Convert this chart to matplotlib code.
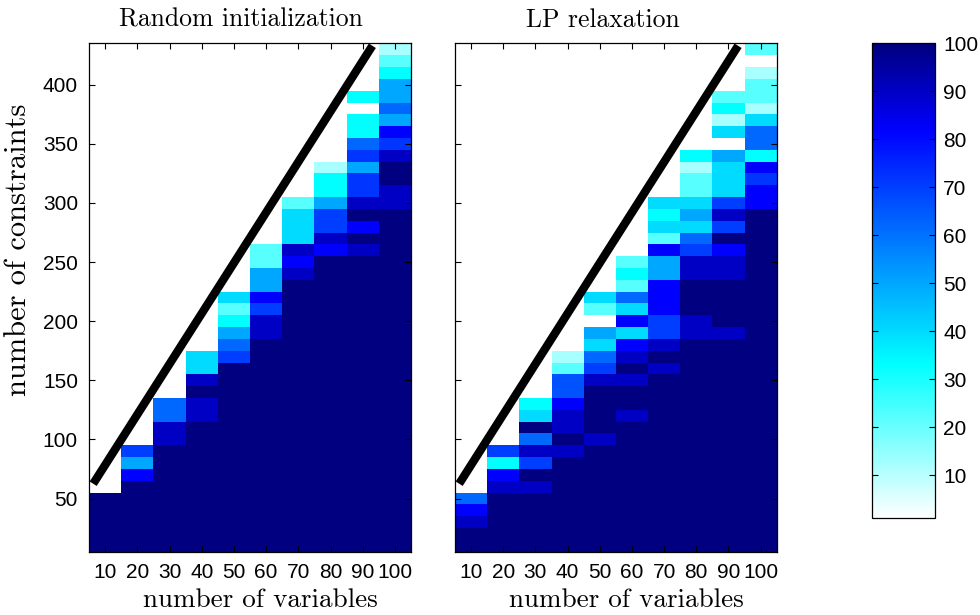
import numpy as np
import matplotlib
matplotlib.use("Agg")
import matplotlib.pyplot as plt
from matplotlib.colors import LinearSegmentedColormap

# --- data ---
n_vars = [10, 20, 30, 40, 50, 60, 70, 80, 90, 100]
n_cons = list(range(10, 440, 10))   # row centres 10..430

# highest non-empty row of each column
top_row = [50, 90, 130, 170, 220, 260, 300, 330, 390, 430]
top_row_lp = [50, 90, 130, 170, 220, 250, 300, 340, 390, 430]

# values from the top row downwards; every row below the list is 100
rand_cols = [
    [100],
    [70, 50, 82],
    [62, 62, 90, 90],
    [40, 40, 90, 100, 90, 90],
    [40, 22, 33, 50, 62, 70],
    [22, 22, 50, 50, 82, 70, 90, 90],
    [22, 40, 40, 40, 90, 82, 90],
    [12, 33, 33, 50, 70, 70, 90, 82],
    [33, 0, 33, 33, 62, 72, 50, 72, 72, 90, 100, 82, 100, 90],
    [12, 22, 33, 50, 50, 62, 50, 82, 72, 90, 100, 100, 90, 90],
]
lp_cols = [
    [62, 82, 90],
    [70, 33, 82, 90],
    [33, 40, 100, 62, 90, 70, 100, 90],
    [12, 22, 66, 66, 82, 90, 90, 100, 90],
    [40, 22, 0, 50, 40, 62, 70, 90, 100, 100, 100, 100, 90],
    [22, 33, 22, 62, 40, 82, 40, 82, 90, 100, 90, 100, 100, 90],
    [40, 33, 40, 22, 82, 50, 50, 82, 82, 82, 70, 70, 90, 100, 90],
    [33, 12, 22, 22, 40, 50, 40, 62, 70, 90, 90, 100, 100, 100, 90, 90],
    [22, 33, 12, 40, 0, 50, 40, 40, 40, 70, 90, 70, 100, 82, 90, 90, 100, 100, 100, 100, 90],
    [22, 0, 12, 22, 22, 12, 40, 62, 62, 33, 82, 72, 82, 82],
]
solved = 100

# the black boundary line (variables, constraints)
line_x = [6.3, 93.0]
line_y = [62.5, 433.0]

cbar_ticks = [10, 20, 30, 40, 50, 60, 70, 80, 90, 100]


def build_grid(cols, tops):
    grid = np.full((len(n_cons), len(n_vars)), np.nan)
    for j, (vals, top) in enumerate(zip(cols, tops)):
        i_top = n_cons.index(top)
        for k in range(i_top + 1):
            grid[i_top - k, j] = vals[k] if k < len(vals) else solved
    return grid


grid_rand = build_grid(rand_cols, top_row)
grid_lp = build_grid(lp_cols, top_row_lp)

cmap = LinearSegmentedColormap.from_list(
    "wcb", [(0.0, (1, 1, 1)), (32 / 99, (0, 1, 1)), (81 / 99, (0, 0, 1)), (1.0, (0, 0, 0.5))])
cmap.set_under("white")

plt.rcParams["font.family"] = "Liberation Sans"
plt.rcParams["font.size"] = 15

W, H = 980, 615
fig = plt.figure(figsize=(W / 100, H / 100), dpi=100)


def px_axes(x0, y0, x1, y1):
    return fig.add_axes([x0 / W, 1 - y1 / H, (x1 - x0) / W, (y1 - y0) / H])


x_edges = np.arange(5, 106, 10)
y_edges = np.arange(5, 436, 10)

ax1 = px_axes(89, 43.4, 411, 551.7)
ax2 = px_axes(455, 43.4, 776.7, 551.7)

for ax, grid in [(ax1, grid_rand), (ax2, grid_lp)]:
    mesh = ax.pcolormesh(x_edges, y_edges, grid, cmap=cmap, vmin=1, vmax=100)
    ax.plot(line_x, line_y, color="k", lw=6, solid_capstyle="butt")
    ax.set_xlim(5, 105)
    ax.set_ylim(5, 435)
    ax.set_xticks(n_vars)
    ax.set_yticks(range(50, 401, 50))
    ax.tick_params(direction="in", top=True, right=True, length=4, width=0.8, pad=8)
    for s in ax.spines.values():
        s.set_linewidth(0.9)
ax2.set_yticklabels([])

cax = px_axes(872.3, 43.3, 935, 518.3)
cb = fig.colorbar(mesh, cax=cax, ticks=cbar_ticks)
cb.outline.set_linewidth(0.9)
cax.tick_params(direction="in", left=True, right=True, length=4, width=0.8, pad=6)

serif = "cmr10"
fig.text(241 / W, 1 - 20 / H, "Random initialization", family=serif, fontsize=18.5, ha="center", va="center")
fig.text(603 / W, 1 - 20 / H, "LP relaxation", family=serif, fontsize=18.5, ha="center", va="center")
fig.text(260 / W, 1 - 600 / H, "number of variables", family=serif, fontsize=19.5, ha="center", va="center")
fig.text(626 / W, 1 - 600 / H, "number of variables", family=serif, fontsize=19.5, ha="center", va="center")
fig.text(18 / W, 1 - 250 / H, "number of constraints", family=serif, fontsize=22, ha="center", va="center",
         rotation=90)

fig.savefig("out.png", dpi=100)
